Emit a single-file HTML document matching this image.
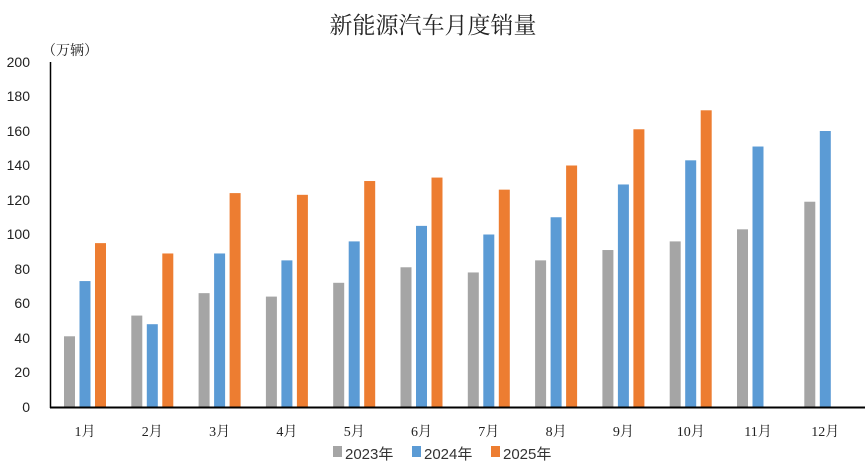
<!DOCTYPE html><html><head><meta charset="utf-8"><style>body{margin:0;background:#fff}svg{display:block}text{font-family:"Liberation Serif","Noto Serif CJK SC",serif}text.s{font-family:"Liberation Sans","Noto Sans CJK SC",sans-serif}</style></head><body>
<svg width="865" height="472" xmlns="http://www.w3.org/2000/svg">
<text x="433" y="33" font-size="23" text-anchor="middle" fill="#222">新能源汽车月度销量</text>
<text x="42" y="55" font-size="14" fill="#222">（万辆）</text>
<g font-size="14" fill="#222" text-anchor="end">
<text class="s" x="30" y="412">0</text><text class="s" x="30" y="377">20</text><text class="s" x="30" y="343">40</text><text class="s" x="30" y="308">60</text><text class="s" x="30" y="274">80</text><text class="s" x="30" y="239">100</text><text class="s" x="30" y="205">120</text><text class="s" x="30" y="170">140</text><text class="s" x="30" y="136">160</text><text class="s" x="30" y="101">180</text><text class="s" x="30" y="67">200</text>
</g>
<line x1="50.5" y1="62" x2="50.5" y2="408" stroke="#000" stroke-width="1.5"/>
<g id="bars"></g>
<line x1="50" y1="407.5" x2="865" y2="407.5" stroke="#000" stroke-width="2"/>
<g font-size="14" fill="#222" text-anchor="middle" id="lbl"></g>
<g font-size="15" fill="#333">
<rect x="333" y="446" width="9" height="11" fill="#a5a5a5"/><text class="s" x="345" y="459">2023年</text>
<rect x="412" y="446" width="9" height="11" fill="#5b9bd5"/><text class="s" x="424" y="459">2024年</text>
<rect x="491" y="446" width="9" height="11" fill="#ed7d31"/><text class="s" x="503" y="459">2025年</text>
</g>
</svg>
<script>
var a=[41,53,66,64,72,81,78,85,91,96,103,119],b=[73,48,89,85,96,105,100,110,129,143,151,160],c=[95,89,124,123,131,133,126,140,161,172];
var s='',l='',k=1.725,base=407;
function r(x,v,col){if(v==null)return '';var h=v*k;return '<rect x="'+x+'" y="'+(base-h)+'" width="11" height="'+h+'" fill="'+col+'"/>';}
for(var i=0;i<12;i++){var cx=85+i*67.3;s+=r(cx-21,a[i],'#a5a5a5')+r(cx-5.5,b[i],'#5b9bd5')+r(cx+10,c[i],'#ed7d31');l+='<text x="'+cx+'" y="436">'+(i+1)+'月</text>';}
document.getElementById('bars').innerHTML=s;document.getElementById('lbl').innerHTML=l;
</script>
</body></html>
